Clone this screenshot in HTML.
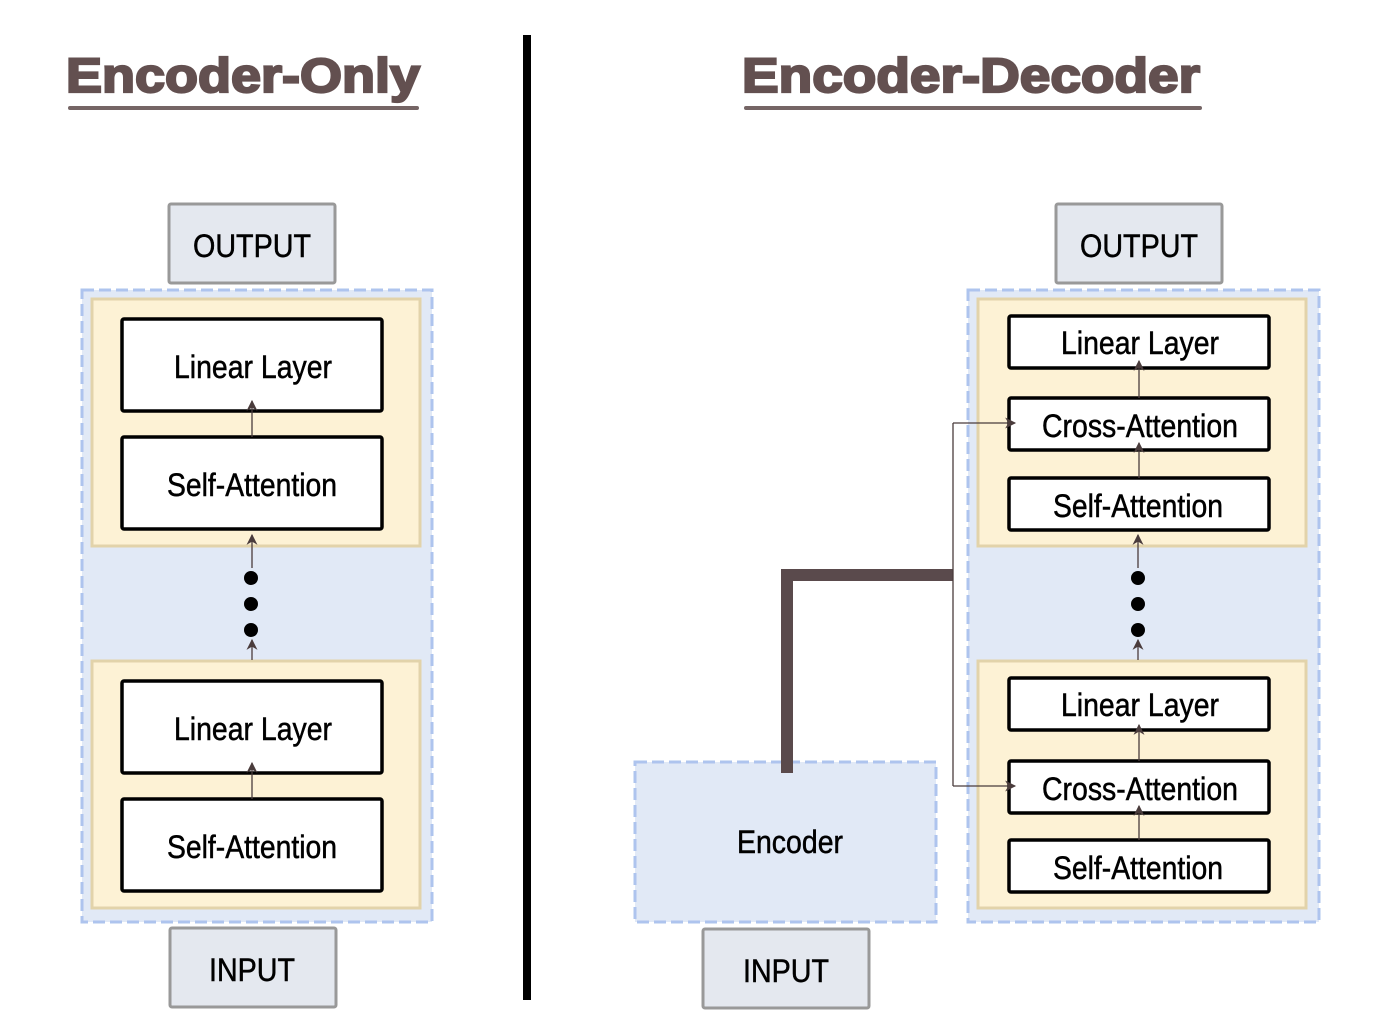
<!DOCTYPE html>
<html><head><meta charset="utf-8"><style>
html,body{margin:0;padding:0;background:#fff;}
svg{display:block;}
text{font-family:"Liberation Sans",Arial,sans-serif;}
</style></head><body>
<svg width="1400" height="1032" viewBox="0 0 1400 1032" xmlns="http://www.w3.org/2000/svg">
<defs>
<marker id="ah" viewBox="0 0 10 10" refX="9" refY="5" markerWidth="14" markerHeight="11" orient="auto" markerUnits="userSpaceOnUse">
<path d="M0,0 L10,5 L0,10 L3,5 z" fill="#4a3c3c"/>
</marker>
</defs>
<!-- titles -->
<text x="66" y="92" font-size="48" font-weight="bold" fill="#635050" stroke="#635050" stroke-width="2.2" textLength="354" lengthAdjust="spacingAndGlyphs">Encoder-Only</text>
<rect x="68" y="106" width="351" height="4" rx="2" fill="#756565"/>
<text x="742" y="92" font-size="48" font-weight="bold" fill="#635050" stroke="#635050" stroke-width="2.2" textLength="458" lengthAdjust="spacingAndGlyphs">Encoder-Decoder</text>
<rect x="744" y="106" width="458" height="4" rx="2" fill="#756565"/>
<!-- divider -->
<rect x="523" y="35" width="8" height="965" fill="#000"/>

<!-- LEFT -->
<rect x="169" y="204" width="166" height="79" fill="#e4e8ef" stroke="#999" stroke-width="3" rx="2"/>
<text x="252" y="257" font-size="32" text-anchor="middle" stroke="#000" stroke-width="0.5" textLength="118" lengthAdjust="spacingAndGlyphs">OUTPUT</text>
<rect x="82" y="290" width="350" height="632" fill="#e1e9f6" stroke="#aec4ee" stroke-width="3" stroke-dasharray="12,5"/>
<rect x="92" y="299" width="328" height="247" fill="#fdf2d5" stroke="#e2d3aa" stroke-width="3"/>
<rect x="92" y="661" width="328" height="247" fill="#fdf2d5" stroke="#e2d3aa" stroke-width="3"/>
<g fill="#fff" stroke="#000" stroke-width="3.5">
<rect x="122" y="319" width="260" height="92" rx="2"/>
<rect x="122" y="437" width="260" height="92" rx="2"/>
<rect x="122" y="681" width="260" height="92" rx="2"/>
<rect x="122" y="799" width="260" height="92" rx="2"/>
</g>
<g font-size="32" text-anchor="middle" stroke="#000" stroke-width="0.5">
<text x="253" y="378" textLength="158" lengthAdjust="spacingAndGlyphs">Linear Layer</text>
<text x="252" y="496" textLength="170" lengthAdjust="spacingAndGlyphs">Self-Attention</text>
<text x="253" y="740" textLength="158" lengthAdjust="spacingAndGlyphs">Linear Layer</text>
<text x="252" y="858" textLength="170" lengthAdjust="spacingAndGlyphs">Self-Attention</text>
</g>
<g stroke="#4a3c3c" stroke-width="1.3" marker-end="url(#ah)">
<line x1="252" y1="437" x2="252" y2="401"/>
<line x1="252" y1="568" x2="252" y2="535"/>
<line x1="252" y1="660" x2="252" y2="640"/>
<line x1="252" y1="799" x2="252" y2="763"/>
</g>
<circle cx="251" cy="578" r="7"/><circle cx="251" cy="604" r="7"/><circle cx="251" cy="630" r="7"/>
<rect x="170" y="928" width="166" height="79" fill="#e4e8ef" stroke="#999" stroke-width="3" rx="2"/>
<text x="252" y="981" font-size="32" text-anchor="middle" stroke="#000" stroke-width="0.5" textLength="86" lengthAdjust="spacingAndGlyphs">INPUT</text>

<!-- RIGHT -->
<rect x="1056" y="204" width="166" height="79" fill="#e4e8ef" stroke="#999" stroke-width="3" rx="2"/>
<text x="1139" y="257" font-size="32" text-anchor="middle" stroke="#000" stroke-width="0.5" textLength="118" lengthAdjust="spacingAndGlyphs">OUTPUT</text>
<rect x="968" y="290" width="351" height="632" fill="#e1e9f6" stroke="#aec4ee" stroke-width="3" stroke-dasharray="12,5"/>
<rect x="978" y="299" width="328" height="247" fill="#fdf2d5" stroke="#e2d3aa" stroke-width="3"/>
<rect x="978" y="661" width="328" height="247" fill="#fdf2d5" stroke="#e2d3aa" stroke-width="3"/>
<g fill="#fff" stroke="#000" stroke-width="3.5">
<rect x="1009" y="316" width="260" height="52" rx="2"/>
<rect x="1009" y="398" width="260" height="52" rx="2"/>
<rect x="1009" y="478" width="260" height="52" rx="2"/>
<rect x="1009" y="678" width="260" height="52" rx="2"/>
<rect x="1009" y="761" width="260" height="52" rx="2"/>
<rect x="1009" y="840" width="260" height="52" rx="2"/>
</g>
<g font-size="32" text-anchor="middle" stroke="#000" stroke-width="0.5">
<text x="1140" y="354" textLength="158" lengthAdjust="spacingAndGlyphs">Linear Layer</text>
<text x="1140" y="437" textLength="196" lengthAdjust="spacingAndGlyphs">Cross-Attention</text>
<text x="1138" y="517" textLength="170" lengthAdjust="spacingAndGlyphs">Self-Attention</text>
<text x="1140" y="716" textLength="158" lengthAdjust="spacingAndGlyphs">Linear Layer</text>
<text x="1140" y="800" textLength="196" lengthAdjust="spacingAndGlyphs">Cross-Attention</text>
<text x="1138" y="879" textLength="170" lengthAdjust="spacingAndGlyphs">Self-Attention</text>
</g>
<g stroke="#4a3c3c" stroke-width="1.3" marker-end="url(#ah)">
<line x1="1139" y1="398" x2="1139" y2="361"/>
<line x1="1139" y1="478" x2="1139" y2="443"/>
<line x1="1138" y1="568" x2="1138" y2="535"/>
<line x1="1138" y1="660" x2="1138" y2="640"/>
<line x1="1139" y1="761" x2="1139" y2="725"/>
<line x1="1139" y1="840" x2="1139" y2="806"/>
</g>
<circle cx="1138" cy="578" r="7"/><circle cx="1138" cy="604" r="7"/><circle cx="1138" cy="630" r="7"/>

<!-- Encoder -->
<rect x="635" y="762" width="301" height="160" fill="#e1e9f6" stroke="#aec4ee" stroke-width="3" stroke-dasharray="12,5"/>
<text x="790" y="853" font-size="32" text-anchor="middle" stroke="#000" stroke-width="0.5" textLength="106" lengthAdjust="spacingAndGlyphs">Encoder</text>
<rect x="703" y="929" width="166" height="79" fill="#e4e8ef" stroke="#999" stroke-width="3" rx="2"/>
<text x="786" y="982" font-size="32" text-anchor="middle" stroke="#000" stroke-width="0.5" textLength="86" lengthAdjust="spacingAndGlyphs">INPUT</text>
<path d="M787,773 L787,575 L953,575" fill="none" stroke="#5a4a4c" stroke-width="12"/>
<g fill="none" stroke="#4a3c3c" stroke-width="1.3">
<path d="M953,786 L953,423" />
<line x1="953" y1="423" x2="1015" y2="423" marker-end="url(#ah)"/>
<line x1="953" y1="786" x2="1015" y2="786" marker-end="url(#ah)"/>
</g>
</svg>
</body></html>
